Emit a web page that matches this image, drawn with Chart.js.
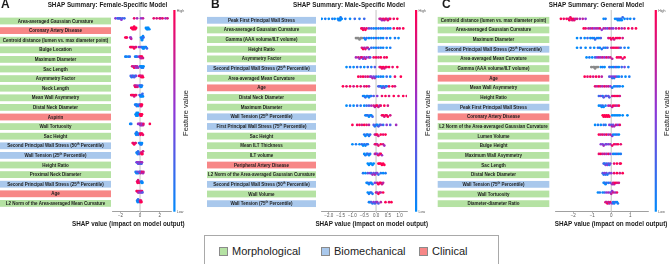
<!DOCTYPE html>
<html>
<head>
<meta charset="utf-8">
<script src="https://cdn.jsdelivr.net/npm/chart.js@4.4.1/dist/chart.umd.min.js"></script>
<style>
  body { margin: 0; background: #fff; width: 669px; height: 264px; overflow: hidden; position: relative;
         font-family: "Liberation Sans", Arial, sans-serif; }
  canvas { position: absolute; top: 0; }
  #legend { position: absolute; left: 204px; top: 234.5px; width: 295px; height: 40px;
            border: 1.5px solid #a9a9a9; box-sizing: border-box; }
  .item { position: absolute; top: 9px; font-size: 11px; color: #222; line-height: 12px; white-space: nowrap; }
  .item span.sw { display: inline-block; width: 7px; height: 7px; border: 1px solid #8a8a8a; vertical-align: -1px; margin-right: 4px; }
</style>
</head>
<body>
<canvas id="panelA" width="203" height="232" style="left:0px"></canvas>
<canvas id="panelB" width="233" height="232" style="left:203px"></canvas>
<canvas id="panelC" width="233" height="232" style="left:436px"></canvas>
<div id="legend"></div>
<script>
// categories des variables
const groupNames = ['Morphological', 'Biomechanical', 'Clinical'];
const groupKeys = ['M', 'B', 'C'];
const groupColors = { M: '#b5e2a3', B: '#a9c8ec', C: '#f78787' };

// ---- Panel A : female model ----
const femaleFeatures = [
  'Area-averaged Gaussian Curvature', 'Coronary Artery Disease', 'Centroid distance (lumen vs. max diameter point)',
  'Bulge Location', 'Maximum Diameter', 'Sac Length', 'Asymmetry Factor', 'Neck Length', 'Mean Wall Asymmetry',
  'Distal Neck Diameter', 'Aspirin', 'Wall Tortuosity', 'Sac Height', 'Second Principal Wall Stress (50th Percentile)',
  'Wall Tension (25th Percentile)', 'Height Ratio', 'Proximal Neck Diameter',
  'Second Principal Wall Stress (25th Percentile)', 'Age', 'L2 Norm of the Area-averaged Mean Curvature'
];
const femaleGroups = ['M','C','M','M','M','M','M','M','M','M','C','M','M','B','B','M','M','B','C','M'];
// [shap value, feature value 0..1]
const femaleShap = [
  [[-2.5,.5],[-2.3,.3],[-2.2,.1],[-2.1,.4],[-2.0,.2],[-1.9,.5],[-1.8,.3],[-1.6,.2],[-0.6,.9],[-0.3,.6],[0.1,.5],[0.3,.7],[1.4,.9],[1.7,.8],[2.0,1],[2.1,.7],[2.3,.9],[2.6,.6],[2.8,.8]],
  [[-0.9,1],[-0.8,1],[-0.75,1],[-0.7,1],[-0.65,1],[-0.6,1],[-0.55,1],[-0.5,1],[-0.4,1],[0.6,0],[0.7,0],[0.75,0],[0.8,0],[0.85,0],[0.95,0]],
  [[-1.5,1],[-1.4,.9],[-1.35,1],[-1.0,.6],[-0.95,.5],[-0.9,.7],[0.1,0],[0.15,.1],[0.2,0],[0.25,.1],[0.3,0],[0.35,.2],[0.2,0]],
  [[-1.0,.9],[-0.9,1],[-0.8,1],[-0.7,.9],[-0.6,1],[-0.5,.8],[-0.4,.9],[-0.1,.5],[0.1,.4],[0.2,.1],[0.3,0],[0.35,.1],[0.4,0],[0.5,.1],[0.6,0],[0.7,.2]],
  [[-1.5,0],[-1.4,.1],[-1.2,0],[-1.05,.2],[-0.5,.1],[-0.4,0],[-0.3,.2],[-0.1,.6],[0,.8],[0.1,1],[0.15,.9],[0.2,1],[0.3,.8],[0.05,.7]],
  [[-0.8,.9],[-0.7,.7],[-0.6,1],[-0.5,.6],[-0.45,.8],[-0.4,.5],[-0.3,.7],[-0.2,.6],[0,.2],[0.1,0],[0.15,.1],[0.2,0],[0.3,.1],[0.35,0]],
  [[-0.95,.2],[-0.85,.1],[-0.8,.4],[-0.7,.2],[-0.6,.3],[-0.5,.1],[-0.4,.4],[-0.1,.9],[0,1],[0.1,.8],[0.15,1],[0.25,.9],[0.3,1]],
  [[-0.55,.9],[-0.5,1],[-0.45,.7],[-0.4,.9],[-0.3,.6],[-0.25,.8],[-0.1,.5],[0,.1],[0.05,0],[0.1,.2],[0.15,0],[0.2,.1]],
  [[-0.9,1],[-0.8,.9],[-0.7,1],[-0.6,.8],[-0.5,1],[-0.4,.9],[-0.05,.3],[0.05,0],[0.1,.1],[0.15,0],[0.2,.1],[0.3,0],[0.25,.2]],
  [[-0.5,.1],[-0.4,0],[-0.35,.2],[-0.3,.1],[-0.2,0],[-0.1,.2],[0,.3],[0.05,.8],[0.1,1],[0.15,.9],[0.2,1]],
  [[-0.45,0],[-0.4,0],[-0.35,0],[-0.3,0],[-0.25,0],[-0.2,0],[-0.15,0],[0.0,1],[0.05,1],[0.1,1],[0.15,1],[0.2,1]],
  [[-1.0,0],[-0.9,.1],[-0.2,.6],[-0.1,.5],[0,.7],[0.05,.4],[0.1,.8],[0.15,.6],[0.2,.5],[0.3,.7],[0.35,.9],[1.0,1]],
  [[-0.45,.1],[-0.4,0],[-0.35,.1],[-0.3,0],[-0.2,.2],[-0.15,.1],[0,.8],[0.05,1],[0.1,.9],[0.2,1],[0.3,.9]],
  [[-0.75,1],[-0.7,.9],[-0.6,1],[-0.5,.8],[-0.45,.9],[-0.1,.2],[0,0],[0.05,.1],[0.1,0],[0.15,.1],[0.2,0]],
  [[-0.35,0],[-0.3,.1],[-0.25,0],[-0.2,.2],[-0.15,.1],[-0.1,.3],[0.1,.8],[0.15,1],[0.2,.9],[0.25,1],[0.3,.8]],
  [[-0.35,.3],[-0.3,.5],[-0.2,.2],[-0.15,.6],[-0.1,.4],[0,.3],[0.05,.5],[0.1,.7],[0.15,.2],[0.2,.6]],
  [[-0.45,.1],[-0.35,0],[-0.3,.3],[-0.2,.1],[-0.1,.5],[0,.2],[0.05,.7],[0.1,.4],[0.2,.9],[0.3,.6],[0.35,.8]],
  [[-0.3,.9],[-0.25,1],[-0.2,.8],[-0.15,1],[-0.1,.9],[0.1,.1],[0.15,0],[0.2,.1],[0.25,0]],
  [[-0.35,.8],[-0.3,1],[-0.2,.7],[-0.15,.9],[-0.1,.6],[0,.8],[0.05,.4],[0.1,.7],[0.15,.5],[0.2,.9],[0.25,.3]],
  [[-0.3,.1],[-0.25,0],[-0.2,.2],[-0.15,0],[-0.1,.1],[0,.8],[0.05,1],[0.1,.9],[0.15,1]]
];
const femaleTicks = [-2, 0, 2];
const femaleTickLabels = ['\u22122', '0', '2'];

// ---- Panel B : male model ----
const maleFeatures = [
  'Peak First Principal Wall Stress', 'Area-averaged Gaussian Curvature', 'Gamma (AAA volume/ILT volume)', 'Height Ratio',
  'Asymmetry Factor', 'Second Principal Wall Stress (25th Percentile)', 'Area-averaged Mean Curvature', 'Age',
  'Distal Neck Diameter', 'Maximum Diameter', 'Wall Tension (25th Percentile)', 'First Principal Wall Stress (75th Percentile)',
  'Sac Height', 'Mean ILT Thickness', 'ILT volume', 'Peripheral Artery Disease',
  'L2 Norm of the Area-averaged Gaussian Curvature', 'Second Principal Wall Stress (50th Percentile)', 'Wall Volume',
  'Wall Tension (75th Percentile)'
];
const maleGroups = ['B','M','M','M','M','B','M','C','M','M','B','B','M','M','M','C','M','B','M','B'];
// -1 = missing value (gray)
const maleShap = [
  [[-2.3,0],[-2.15,.1],[-2.0,0],[-1.85,.1],[-1.75,0],[-1.62,0],[-1.58,.1],[-1.55,0],[-1.52,0],[-1.5,.1],[-1.45,0],[-1.3,.1],[-1.1,0],[-0.9,.2],[-0.7,.1],[-0.5,.2],[0.15,.7],[0.2,.8],[0.25,.6],[0.3,.9],[0.35,.7],[0.4,1],[0.45,.8],[0.5,.9],[0.55,.6],[0.6,1],[0.75,.9],[0.9,1]],
  [[-0.62,1],[-0.58,.9],[-0.55,1],[-0.5,.8],[-0.45,1],[-0.4,.9],[-0.3,.4],[-0.2,.2],[-0.1,.1],[0,0],[0.1,.2],[0.2,0],[0.3,.1],[0.4,.3],[0.5,.1],[0.6,0],[0.75,.9],[0.9,1],[1.0,.8],[1.15,1]],
  [[-0.85,-1],[-0.8,-1],[-0.75,-1],[-0.7,-1],[-0.65,-1],[-0.6,-1],[-0.5,.1],[-0.45,0],[-0.4,.2],[-0.3,0],[-0.2,.1],[-0.1,0],[0,.2],[0.1,0],[0.2,.1],[0.3,0],[0.45,.2],[0.6,0],[0.8,.1],[0.95,0]],
  [[-0.6,.8],[-0.55,1],[-0.5,.7],[-0.45,.9],[-0.4,.6],[-0.35,.8],[-0.3,.4],[-0.2,.2],[-0.1,.1],[0,0],[0.1,.2],[0.2,0],[0.3,.1],[0.45,0],[0.6,.1]],
  [[-0.85,.6],[-0.75,.8],[-0.7,.5],[-0.65,.7],[-0.6,.9],[-0.55,.4],[-0.5,.6],[-0.45,.8],[-0.4,.5],[-0.3,.7],[-0.25,.3],[-0.1,.9],[0,1],[0.1,.8],[0.2,1],[0.35,.9],[0.45,1]],
  [[-1.25,0],[-1.1,.1],[-0.95,0],[-0.8,.2],[-0.65,.1],[-0.5,0],[-0.35,.2],[-0.2,.1],[-0.05,.3],[0.15,.8],[0.2,1],[0.25,.9],[0.3,1],[0.35,.8],[0.4,1],[0.45,.9],[0.55,1],[0.7,.9],[0.9,1]],
  [[-0.75,1],[-0.65,.9],[-0.55,1],[-0.45,.8],[-0.35,.9],[-0.25,.6],[-0.2,.5],[-0.15,.7],[-0.1,.4],[-0.05,.6],[0,.2],[0.1,0],[0.2,.1],[0.3,0],[0.45,.2],[0.6,0],[0.8,.9],[1.05,1]],
  [[-1.4,1],[-1.25,.9],[-1.1,1],[-0.95,.8],[-0.8,1],[-0.65,.9],[-0.5,.8],[-0.4,1],[-0.3,.7],[0.1,.2],[0.15,.4],[0.2,0],[0.25,.3],[0.3,.1],[0.35,.5],[0.4,.2],[0.45,.1],[0.55,.9],[0.7,1],[0.8,.8]],
  [[-0.55,.1],[-0.5,0],[-0.45,.2],[-0.4,0],[-0.35,.1],[-0.3,0],[-0.25,.2],[-0.2,.1],[-0.1,.3],[0.05,.5],[0.25,.9],[0.4,1],[0.55,.8],[0.75,1],[0.95,.9],[1.15,1],[1.3,.9]],
  [[-1.25,0],[-1.1,.1],[-0.95,0],[-0.8,.2],[-0.65,.1],[-0.5,0],[-0.4,.2],[-0.3,.3],[-0.2,.6],[-0.1,.8],[-0.05,.7],[0,.9],[0.05,1],[0.1,.8],[0.15,.6],[0.2,.9],[0.35,1],[0.5,.8]],
  [[-0.45,.1],[-0.4,0],[-0.35,.2],[-0.3,0],[-0.25,.1],[-0.2,0],[-0.15,.2],[0.25,.9],[0.3,1],[0.35,.8],[0.4,1],[0.45,.9],[0.5,1],[0.6,.8]],
  [[-1.0,1],[-0.8,.9],[-0.7,1],[-0.6,.8],[-0.5,1],[-0.4,.9],[-0.3,.7],[-0.1,.3],[-0.05,.1],[0,.2],[0.05,0],[0.1,.3],[0.15,.1],[0.2,.4],[0.3,.2],[0.45,.5],[0.6,.3],[0.85,.6]],
  [[-0.5,.1],[-0.45,0],[-0.4,.2],[-0.35,0],[-0.3,.1],[-0.25,.2],[-0.05,.7],[0,.9],[0.05,1],[0.1,.8],[0.2,1],[0.3,.9],[0.4,1]],
  [[-1.0,0],[-0.85,.1],[-0.7,0],[-0.6,.2],[-0.55,0],[-0.5,.1],[-0.45,0],[-0.4,.2],[-0.35,.1],[-0.05,.8],[0,1],[0.05,.7],[0.1,.9],[0.2,1],[0.3,.8],[0.35,.6]],
  [[-0.5,0],[-0.45,.1],[-0.4,0],[-0.35,.2],[-0.3,0],[-0.25,.1],[-0.05,.6],[0,.8],[0.05,.5],[0.1,.9],[0.15,.7],[0.2,1],[0.25,.6]],
  [[-0.35,0],[-0.3,0],[-0.25,0],[-0.2,0],[-0.15,0],[-0.1,0],[0.1,1],[0.15,1],[0.2,1],[0.25,1],[0.3,1],[0.35,1]],
  [[-0.55,.1],[-0.45,0],[-0.35,.3],[-0.25,.5],[-0.2,.2],[-0.15,.6],[-0.1,.4],[-0.05,.7],[0,.3],[0.05,.5],[0.1,.2],[0.2,.1],[0.3,0],[0.4,.1]],
  [[-0.4,0],[-0.35,.1],[-0.3,0],[-0.25,.2],[-0.2,0],[-0.15,.1],[-0.05,.5],[0.05,.8],[0.1,1],[0.15,.9],[0.2,1],[0.25,.8],[0.3,.7]],
  [[-0.35,0],[-0.3,.1],[-0.25,0],[-0.2,.2],[-0.15,.1],[0,.8],[0.05,.6],[0.1,1],[0.15,.9],[0.2,.7],[0.3,1]],
  [[-0.3,.1],[-0.25,0],[-0.2,.3],[-0.15,.1],[-0.1,.5],[-0.05,.2],[0,.4],[0.05,.6],[0.1,.3],[0.2,.7],[0.4,1],[0.55,.9],[0.65,1]]
];
const maleTicks = [-2, -1.5, -1, -0.5, 0, 0.5, 1];
const maleTickLabels = ['\u22122.0', '\u22121.5', '\u22121.0', '\u22120.5', '0.0', '0.5', '1.0'];

// ---- Panel C : general model ----
const generalFeatures = [
  'Centroid distance (lumen vs. max diameter point)', 'Area-averaged Gaussian Curvature', 'Maximum Diameter',
  'Second Principal Wall Stress (25th Percentile)', 'Area-averaged Mean Curvature', 'Gamma (AAA volume/ILT volume)', 'Age',
  'Mean Wall Asymmetry', 'Height Ratio', 'Peak First Principal Wall Stress', 'Coronary Artery Disease',
  'L2 Norm of the Area-averaged Gaussian Curvature', 'Lumen Volume', 'Bulge Height', 'Maximum Wall Asymmetry',
  'Sac Length', 'Distal Neck Diameter', 'Wall Tension (75th Percentile)', 'Wall Tortuosity', 'Diameter-diameter Ratio'
];
const generalGroups = ['M','M','M','B','M','M','C','M','M','B','C','M','M','M','M','M','M','B','M','M'];
const generalShap = [
  [[-2.65,1],[-2.5,.9],[-2.35,1],[-2.25,.8],[-2.2,1],[-2.15,.9],[-2.1,1],[-2.05,.8],[-2.0,1],[-1.95,.9],[-1.9,.7],[-1.8,.8],[-1.65,.6],[-1.5,.7],[-1.35,.5],[-0.4,0],[-0.3,.1],[0.2,0],[0.3,.1],[0.35,0],[0.4,.2],[0.45,0],[0.5,.1],[0.55,0],[0.6,.2],[0.7,0],[0.85,.1],[1.0,0],[1.2,.1]],
  [[-1.45,1],[-1.35,.9],[-1.2,.7],[-1.1,.6],[-1.0,.8],[-0.9,.5],[-0.8,.7],[-0.7,.6],[-0.6,.9],[-0.5,.5],[-0.4,.7],[-0.3,.6],[-0.2,.4],[-0.1,.8],[0,.6],[0.1,.5],[0.25,.7],[0.4,.9],[0.55,.6],[0.7,.8],[0.9,1],[1.1,.9],[1.3,1]],
  [[-1.8,0],[-1.6,.1],[-1.4,0],[-1.25,.2],[-1.1,0],[-1.0,.1],[-0.9,0],[-0.85,.2],[-0.75,.1],[-0.65,0],[-0.55,.3],[-0.15,.8],[-0.05,1],[0,.9],[0.1,1],[0.15,.8],[0.25,1],[0.35,.9],[0.45,1],[0.6,.8]],
  [[-1.8,0],[-1.6,.1],[-1.35,0],[-1.1,.1],[-0.9,0],[-0.7,.2],[-0.6,0],[-0.5,.1],[-0.4,.2],[-0.3,0],[-0.2,.3],[0,.8],[0.1,1],[0.2,.9],[0.3,1],[0.4,.8],[0.5,.2],[0.7,.1],[0.9,0]],
  [[-1.3,0],[-1.15,.1],[-1.0,0],[-0.85,.2],[-0.75,.5],[-0.65,.7],[-0.55,.6],[-0.45,.8],[-0.35,.5],[-0.25,.9],[-0.15,.6],[-0.05,.8],[0.05,.7],[0.3,1],[0.4,.9],[0.5,1],[0.6,.8],[0.7,1]],
  [[-1.05,-1],[-0.95,-1],[-0.9,-1],[-0.85,-1],[-0.8,-1],[-0.7,-1],[-0.55,0],[-0.45,.1],[-0.35,0],[-0.1,.2],[0,.1],[0.1,0],[0.2,.3],[0.3,.1],[0.4,0],[0.55,.2],[0.7,.4],[0.9,.1]],
  [[-1.4,1],[-1.25,.9],[-1.1,1],[-0.95,.8],[-0.8,1],[-0.65,.9],[-0.5,.7],[-0.1,.3],[0,.5],[0.05,.2],[0.1,.4],[0.15,.1],[0.2,.6],[0.3,.2],[0.4,0],[0.55,.1],[0.75,0],[0.95,.1]],
  [[-0.85,.9],[-0.75,.7],[-0.65,1],[-0.55,.8],[-0.45,.6],[-0.35,.9],[-0.25,.7],[-0.15,.8],[-0.05,.5],[0.05,.1],[0.15,0],[0.25,.2],[0.35,0],[0.45,.1],[0.6,0]],
  [[-0.65,.2],[-0.55,.4],[-0.45,.1],[-0.4,.3],[-0.3,.5],[-0.25,.2],[-0.15,.4],[-0.1,.3],[0.05,.8],[0.15,1],[0.25,.9],[0.35,1],[0.45,.8]],
  [[-0.65,0],[-0.55,.1],[-0.5,0],[-0.45,.2],[-0.4,0],[-0.3,.1],[-0.15,.6],[-0.05,.8],[0.05,.7],[0.1,1],[0.2,.9],[0.3,.7],[0.4,1]],
  [[-0.45,1],[-0.4,1],[-0.35,1],[-0.3,1],[-0.25,1],[-0.2,1],[-0.15,1],[-0.1,1],[0.05,0],[0.15,0],[0.25,0],[0.35,0],[0.45,0],[0.6,0],[0.85,0]],
  [[-0.85,0],[-0.7,.1],[-0.55,0],[-0.4,.2],[-0.3,.1],[-0.1,.5],[0,.3],[0.05,.7],[0.1,.4],[0.15,.6],[0.25,.8],[0.35,.5],[0.45,.9]],
  [[-0.65,1],[-0.55,.8],[-0.45,.9],[-0.35,.7],[-0.25,1],[-0.15,.6],[-0.05,.8],[0.05,.5],[0.1,.1],[0.2,0],[0.3,.2],[0.4,0]],
  [[-0.55,.5],[-0.45,.4],[-0.4,.6],[-0.3,.3],[-0.25,.5],[-0.15,.4],[-0.05,.6],[0.05,.9],[0.15,1],[0.25,.8],[0.35,1],[0.5,.9]],
  [[-0.65,.9],[-0.55,1],[-0.45,.7],[-0.35,.8],[-0.25,.6],[-0.15,.9],[-0.05,.5],[0.1,.1],[0.2,0],[0.3,.2],[0.4,0],[0.5,.1]],
  [[-0.4,.3],[-0.35,.1],[-0.3,.4],[-0.25,.2],[-0.2,.5],[-0.15,.3],[-0.1,.1],[-0.05,.4],[0.15,.9],[0.3,1],[0.45,.8],[0.5,1]],
  [[-0.45,.3],[-0.4,.1],[-0.35,.5],[-0.3,.2],[-0.25,.4],[-0.2,.1],[-0.1,.3],[0,.5],[0.15,.9],[0.3,1],[0.45,.8],[0.6,1]],
  [[-0.4,0],[-0.35,.1],[-0.3,0],[-0.25,.2],[-0.15,.1],[-0.05,.3],[0.05,.6],[0.1,.8],[0.15,.7],[0.2,1],[0.3,.9],[0.4,.8]],
  [[-0.7,0],[-0.6,.1],[-0.45,0],[-0.35,.2],[-0.25,.5],[-0.15,.6],[-0.05,.4],[0,.7],[0.05,.5],[0.1,.8],[0.2,.6],[0.3,.9]],
  [[-0.3,.9],[-0.25,.7],[-0.2,1],[-0.15,.8],[-0.1,.6],[-0.05,.9],[0.05,.5],[0.1,.1],[0.15,0],[0.2,.2],[0.3,0],[0.35,.1]]
];
const generalTicks = [-2, -1, 0, 1];
const generalTickLabels = ['\u22122', '\u22121', '0', '1'];

// couleurs SHAP (bleu = faible, rouge = élevé)
const lowRGB = [0, 139, 251], midRGB = [140, 55, 215], highRGB = [255, 0, 82];
function featColor(c) {
  if (c < 0) return '#8a8a8a';
  const a = c < 0.5 ? lowRGB : midRGB, b = c < 0.5 ? midRGB : highRGB;
  const t = c < 0.5 ? c / 0.5 : (c - 0.5) / 0.5;
  return 'rgb(' + a.map((v, i) => Math.round(v + (b[i] - v) * t)).join(',') + ')';
}

// empilement type beeswarm (comme shap : bins + couches alternées)
function swarmOffsets(pts, binW) {
  const q = pts.map(p => Math.round(p[0] / binW));
  const order = q.map((v, i) => i).sort((a, b) => q[a] - q[b] || a - b);
  const ys = new Array(pts.length).fill(0);
  let layer = 0, last = null;
  order.forEach(i => {
    if (q[i] !== last) layer = 0;
    ys[i] = Math.ceil(layer / 2) * ((layer % 2) * 2 - 1);
    layer++; last = q[i];
  });
  const m = Math.max(1, ...ys.map(Math.abs));
  const k = Math.min(0.14, 0.38 / m);
  return ys.map(y => y * k);
}

// texte avec exposant "th"
function drawLabel(ctx, text, cx, cy, maxW) {
  const fs = 4.5;
  const m = text.match(/^(.*\d)(th)(.*)$/);
  const segs = m ? [[m[1], false], ['th', true], [m[3], false]] : [[text, false]];
  const fontFor = sup => 'bold ' + (sup ? fs * 0.65 : fs) + 'px "Liberation Sans", Arial, sans-serif';
  let total = 0;
  segs.forEach(s => { ctx.font = fontFor(s[1]); s.push(ctx.measureText(s[0]).width); total += s[2]; });
  const sc = Math.min(1, maxW / total);
  ctx.save();
  ctx.translate(cx - total * sc / 2, cy);
  ctx.scale(sc, 1);
  ctx.textBaseline = 'middle';
  ctx.textAlign = 'left';
  let x = 0;
  segs.forEach(s => {
    ctx.font = fontFor(s[1]);
    ctx.fillText(s[0], x, s[1] ? -1.2 : 0.3);
    x += s[2];
  });
  ctx.restore();
}

const deco = {
  id: 'deco',
  beforeDatasetsDraw(chart, args, o) {
    const { ctx, chartArea, scales: { x } } = chart;
    const px = x.getPixelForValue(0);
    ctx.save();
    ctx.strokeStyle = '#cdcdcd';
    ctx.lineWidth = 1.2;
    ctx.beginPath();
    ctx.moveTo(px, chartArea.top);
    ctx.lineTo(px, chartArea.bottom);
    ctx.stroke();
    ctx.restore();
  },
  afterDraw(chart, args, o) {
    const { ctx, chartArea, scales: { y } } = chart;
    const top = chartArea.top, bot = chartArea.bottom;
    ctx.save();
    // boîtes des variables
    o.features.forEach((f, i) => {
      const cy = y.getPixelForValue(i) + o.boxDy;
      ctx.fillStyle = groupColors[o.groups[i]];
      ctx.fillRect(o.boxL, cy - 3.4, o.boxR - o.boxL, 6.8);
      ctx.fillStyle = '#1b1b1b';
      drawLabel(ctx, f, (o.boxL + o.boxR) / 2, cy, o.boxR - o.boxL - 2);
    });
    // barre de couleur
    const g = ctx.createLinearGradient(0, bot, 0, top);
    g.addColorStop(0, featColor(0));
    g.addColorStop(0.5, featColor(0.5));
    g.addColorStop(1, featColor(1));
    ctx.fillStyle = g;
    ctx.fillRect(o.barX, top, 2.2, bot - top);
    ctx.fillStyle = '#555';
    ctx.font = '3.6px "Liberation Sans", Arial, sans-serif';
    ctx.textAlign = 'left';
    ctx.textBaseline = 'middle';
    ctx.fillText('High', o.barX + 3.5, top + 1);
    ctx.fillText('Low', o.barX + 3.5, bot);
    ctx.save();
    ctx.translate(o.fvX, 113);
    ctx.rotate(-Math.PI / 2);
    ctx.fillStyle = '#222';
    ctx.font = '7.5px "Liberation Sans", Arial, sans-serif';
    ctx.textAlign = 'center';
    ctx.fillText('Feature value', 0, 0);
    ctx.restore();
    // titres
    ctx.fillStyle = '#1b1b1b';
    ctx.textAlign = 'center';
    ctx.font = 'bold 6.3px "Liberation Sans", Arial, sans-serif';
    ctx.fillText(o.title, o.titleX, 5);
    ctx.fillText('SHAP value (impact on model output)', o.xLabelX, 223.8);
    ctx.textAlign = 'left';
    ctx.font = 'bold 12px "Liberation Sans", Arial, sans-serif';
    ctx.fillText(o.letter, o.letterX, 5);
    ctx.restore();
  }
};

function makePanel(id, p) {
  const pts = [];
  p.shap.forEach((row, i) => {
    const off = swarmOffsets(row, p.binW);
    row.forEach((s, j) => pts.push({ x: s[0], y: i + off[j], c: s[1] }));
  });
  return new Chart(document.getElementById(id), {
    type: 'scatter',
    data: {
      datasets: [{
        data: pts,
        pointRadius: 1.35,
        pointBorderWidth: 0,
        backgroundColor: ctx => featColor(ctx.raw ? ctx.raw.c : 0.5)
      }]
    },
    options: {
      responsive: false,
      animation: false,
      devicePixelRatio: 1,
      events: [],
      layout: { padding: { left: p.padL, right: p.padR, top: 10, bottom: 0 } },
      plugins: {
        legend: { display: false },
        tooltip: { enabled: false },
        deco: p.deco
      },
      scales: {
        x: {
          type: 'linear', min: p.xMin, max: p.xMax,
          afterBuildTicks: s => { s.ticks = p.ticks.map(v => ({ value: v })); },
          afterFit: s => { s.height = 232 - 211.7; },
          ticks: {
            font: { size: 4.5, family: '"Liberation Sans", Arial, sans-serif' }, color: '#555', padding: 0,
            maxRotation: 0, autoSkip: false,
            callback: (v, i) => p.tickLabels[i]
          },
          grid: { display: true, drawOnChartArea: false, drawTicks: true, tickLength: 1.5, color: '#888', lineWidth: 0.6 },
          border: { display: true, color: '#888', width: 0.8 }
        },
        y: { type: 'linear', display: false, reverse: true, min: p.yMin, max: p.yMax }
      }
    },
    plugins: [deco]
  });
}

makePanel('panelA', {
  shap: femaleShap, ticks: femaleTicks, tickLabels: femaleTickLabels, binW: 0.13,
  xMin: -2.79, xMax: 3.16, yMin: -0.865, yMax: 20.146, padL: 112.7, padR: 32,
  deco: { features: femaleFeatures, groups: femaleGroups, boxL: 0, boxR: 111, boxDy: 2.7,
          barX: 173.3, fvX: 186, title: 'SHAP Summary: Female-Specific Model', titleX: 107.5,
          xLabelX: 128.3, letter: 'A', letterX: 1 }
});
makePanel('panelB', {
  shap: maleShap, ticks: maleTicks, tickLabels: maleTickLabels, binW: 0.08,
  xMin: -2.33, xMax: 1.31, yMin: -0.912, yMax: 19.99, padL: 118, padR: 29,
  deco: { features: maleFeatures, groups: maleGroups, boxL: 4, boxR: 113, boxDy: 1.5,
          barX: 212, fvX: 225, title: 'SHAP Summary: Male-Specific Model', titleX: 146,
          xLabelX: 168.7, letter: 'B', letterX: 8 }
});
makePanel('panelC', {
  shap: generalShap, ticks: generalTicks, tickLabels: generalTickLabels, binW: 0.11,
  xMin: -2.96, xMax: 1.97, yMin: -0.912, yMax: 19.99, padL: 119, padR: 20.3,
  deco: { features: generalFeatures, groups: generalGroups, boxL: 1.7, boxR: 113.3, boxDy: 1.5,
          barX: 218.7, fvX: 231, title: 'SHAP Summary: General Model', titleX: 160.3,
          xLabelX: 175, letter: 'C', letterX: 6 }
});

// légende des catégories
const legendLeft = [14, 116, 214];
const legend = document.getElementById('legend');
groupNames.forEach((name, i) => {
  const d = document.createElement('div');
  d.className = 'item';
  d.style.left = legendLeft[i] + 'px';
  d.innerHTML = '<span class="sw" style="background:' + groupColors[groupKeys[i]] + '"></span>' + name;
  legend.appendChild(d);
});
</script>
</body>
</html>
